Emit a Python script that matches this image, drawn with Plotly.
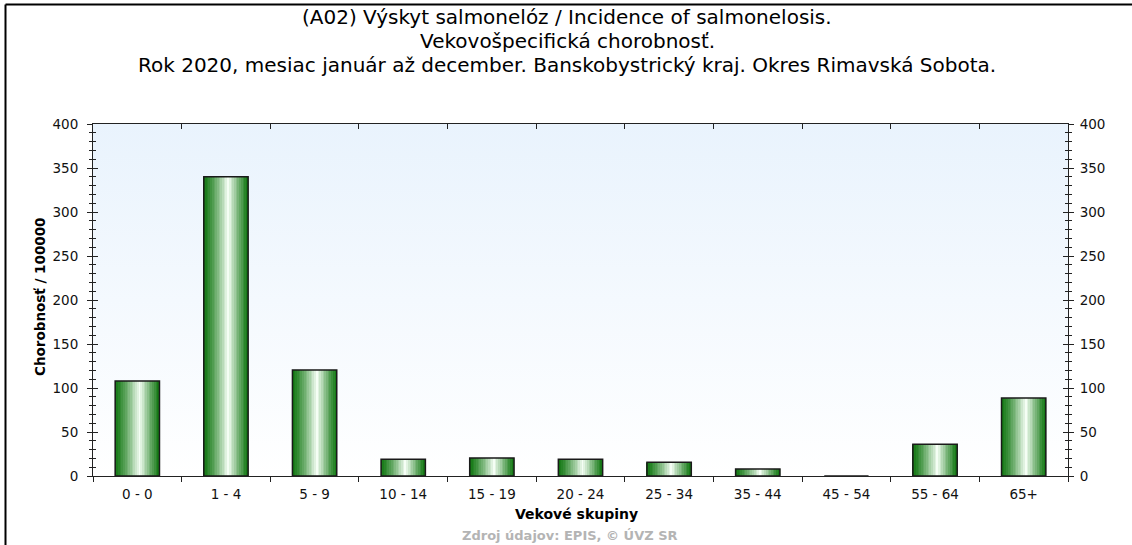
import base64
import plotly.graph_objects as go

# ---- data ----
categories = ["0 - 0", "1 - 4", "5 - 9", "10 - 14", "15 - 19", "20 - 24",
              "25 - 34", "35 - 44", "45 - 54", "55 - 64", "65+"]
values = [108, 340, 120.5, 19, 20.5, 19, 15.5, 8, 0, 36, 88.5]
y_ticks = [0, 50, 100, 150, 200, 250, 300, 350, 400]

title_lines = [
    "(A02) Výskyt salmonelóz / Incidence of salmonelosis.",
    "Vekovošpecifická chorobnosť.",
    "Rok 2020, mesiac január až december. Banskobystrický kraj. Okres Rimavská Sobota.",
]
x_title = "Vekové skupiny"
y_title = "Chorobnosť / 100000"
source_text = "Zdroj údajov: EPIS, © ÚVZ SR"

# ---- layout geometry ----
W, H = 1132, 545
ML, MR, MT, MB = 93, 64, 124, 69
PW = W - ML - MR
PH = H - MT - MB
FONT = "DejaVu Sans, Verdana, sans-serif"


def px_x(px):
    return (px - ML) / PW


def px_y(py):
    return (H - MB - py) / PH


def mix(c1, c2, t):
    return tuple(round(a + (b - a) * t) for a, b in zip(c1, c2))


dark = (16, 118, 16)
light = (246, 255, 246)
peak = 0.56

fig = go.Figure()

# gradient strips for cylinder-like bars
N = 26
bar_w = 0.5
sw = bar_w / N
for i in range(N):
    p = (i + 0.5) / N
    if p <= peak:
        t = (p / peak) ** 1.3
    else:
        t = ((1 - p) / (1 - peak)) ** 1.1
    c = mix(dark, light, t)
    fig.add_trace(go.Bar(
        x=categories, y=values,
        width=sw * 1.15, offset=-bar_w / 2 + i * sw,
        marker=dict(color="rgb(%d,%d,%d)" % c, line=dict(width=0)),
        showlegend=False, hoverinfo="skip",
    ))

# outline
fig.add_trace(go.Bar(
    x=categories, y=values, width=bar_w, offset=-bar_w / 2,
    marker=dict(color="rgba(0,0,0,0)", line=dict(color="#1a1a1a", width=1.5)),
    showlegend=False,
))

# helper empty traces for overlay axes
for xa, ya in [("x2", "y"), ("x3", "y"), ("x", "y2"), ("x", "y3"), ("x", "y4")]:
    fig.add_trace(go.Scatter(x=[], y=[], xaxis=xa, yaxis=ya, showlegend=False))

axis_col = "#222222"
tick_font = dict(family=FONT, size=13.5, color="#111111")
boundaries = [i - 0.5 for i in range(len(categories) + 1)]
xr = [-0.5, len(categories) - 0.5]
yr = [0, 400]

# background gradient
svg = ('<svg xmlns="http://www.w3.org/2000/svg" width="100" height="100" preserveAspectRatio="none">'
       '<defs><linearGradient id="g" x1="0" y1="0" x2="0" y2="1">'
       '<stop offset="0" stop-color="#e9f3fd"/><stop offset="1" stop-color="#ffffff"/>'
       '</linearGradient></defs><rect width="100" height="100" fill="url(#g)"/></svg>')
bg_src = "data:image/svg+xml;base64," + base64.b64encode(svg.encode()).decode()

annotations = []
for line, cy in zip(title_lines, [17, 41, 65]):
    annotations.append(dict(text=line, x=px_x(567), xref="paper", y=px_y(cy), yref="paper",
                            xanchor="center", yanchor="middle", showarrow=False,
                            font=dict(family=FONT, size=20, color="#000")))
annotations += [
    dict(text="<b>%s</b>" % y_title, textangle=-90, x=px_x(40), y=px_y(297),
         xref="paper", yref="paper", xanchor="center", yanchor="middle", showarrow=False,
         font=dict(family=FONT, size=13.5, color="#000")),
    dict(text="<b>%s</b>" % x_title, x=px_x(576), y=px_y(514),
         xref="paper", yref="paper", xanchor="center", yanchor="middle", showarrow=False,
         font=dict(family=FONT, size=14, color="#000")),
    dict(text="<b>%s</b>" % source_text, x=px_x(570), y=px_y(535),
         xref="paper", yref="paper", xanchor="center", yanchor="middle", showarrow=False,
         font=dict(family=FONT, size=13, color="#b4b4b4")),
]

fig.update_layout(
    width=W, height=H,
    margin=dict(l=ML, r=MR, t=MT, b=MB, pad=0),
    paper_bgcolor="white", plot_bgcolor="rgba(0,0,0,0)",
    barmode="overlay",
    font=dict(family=FONT, size=13, color="#111"),
    images=[dict(source=bg_src, xref="paper", yref="paper", x=0, y=1,
                 sizex=1, sizey=1, sizing="stretch", layer="below")],
    xaxis=dict(type="category", range=xr, categoryorder="array", categoryarray=categories,
               showline=True, linecolor=axis_col, linewidth=1, ticks="",
               ticklabelstandoff=6, tickfont=tick_font, showgrid=False, zeroline=False,
               fixedrange=True),
    xaxis2=dict(overlaying="x", anchor="y", side="bottom", range=xr, tickmode="array",
                tickvals=boundaries, ticks="outside", ticklen=5, tickcolor=axis_col,
                showticklabels=False, showgrid=False, zeroline=False, showline=False),
    xaxis3=dict(overlaying="x", anchor="y", side="top", range=xr, tickmode="array",
                tickvals=boundaries, ticks="inside", ticklen=5, tickcolor=axis_col,
                showticklabels=False, showgrid=False, zeroline=False,
                showline=True, linecolor=axis_col, linewidth=1),
    yaxis=dict(range=yr, tickmode="array", tickvals=y_ticks, ticks="outside", ticklen=5,
               tickcolor=axis_col, showline=True, linecolor=axis_col, linewidth=1,
               minor=dict(dtick=10, ticks="outside", ticklen=3, tickcolor=axis_col, showgrid=False),
               ticklabelstandoff=6, tickfont=tick_font, showgrid=False, zeroline=False),
    yaxis3=dict(overlaying="y", anchor="x", side="left", range=yr, tickmode="array",
                tickvals=y_ticks, ticks="inside", ticklen=5, tickcolor=axis_col,
                minor=dict(dtick=10, ticks="inside", ticklen=3, tickcolor=axis_col, showgrid=False),
                showticklabels=False, showgrid=False, zeroline=False, showline=False),
    yaxis2=dict(overlaying="y", anchor="x", side="right", range=yr, tickmode="array",
                tickvals=y_ticks, ticks="outside", ticklen=5, tickcolor=axis_col,
                showline=True, linecolor=axis_col, linewidth=1,
                minor=dict(dtick=10, ticks="outside", ticklen=3, tickcolor=axis_col, showgrid=False),
                ticklabelstandoff=3, tickfont=tick_font, showgrid=False, zeroline=False),
    yaxis4=dict(overlaying="y", anchor="x", side="right", range=yr, tickmode="array",
                tickvals=y_ticks, ticks="inside", ticklen=5, tickcolor=axis_col,
                minor=dict(dtick=10, ticks="inside", ticklen=3, tickcolor=axis_col, showgrid=False),
                showticklabels=False, showgrid=False, zeroline=False, showline=False),
    annotations=annotations,
    shapes=[
        dict(type="line", xref="paper", yref="paper", x0=px_x(5.5), x1=px_x(W + 2),
             y0=px_y(4.5), y1=px_y(4.5), line=dict(color="#000", width=2)),
        dict(type="line", xref="paper", yref="paper", x0=px_x(5.5), x1=px_x(5.5),
             y0=px_y(4.5), y1=px_y(H + 2), line=dict(color="#000", width=2)),
    ],
)

fig.write_html("out.html", config={"displayModeBar": False},
               post_script="document.body.style.margin='0';document.body.style.overflow='hidden';")
